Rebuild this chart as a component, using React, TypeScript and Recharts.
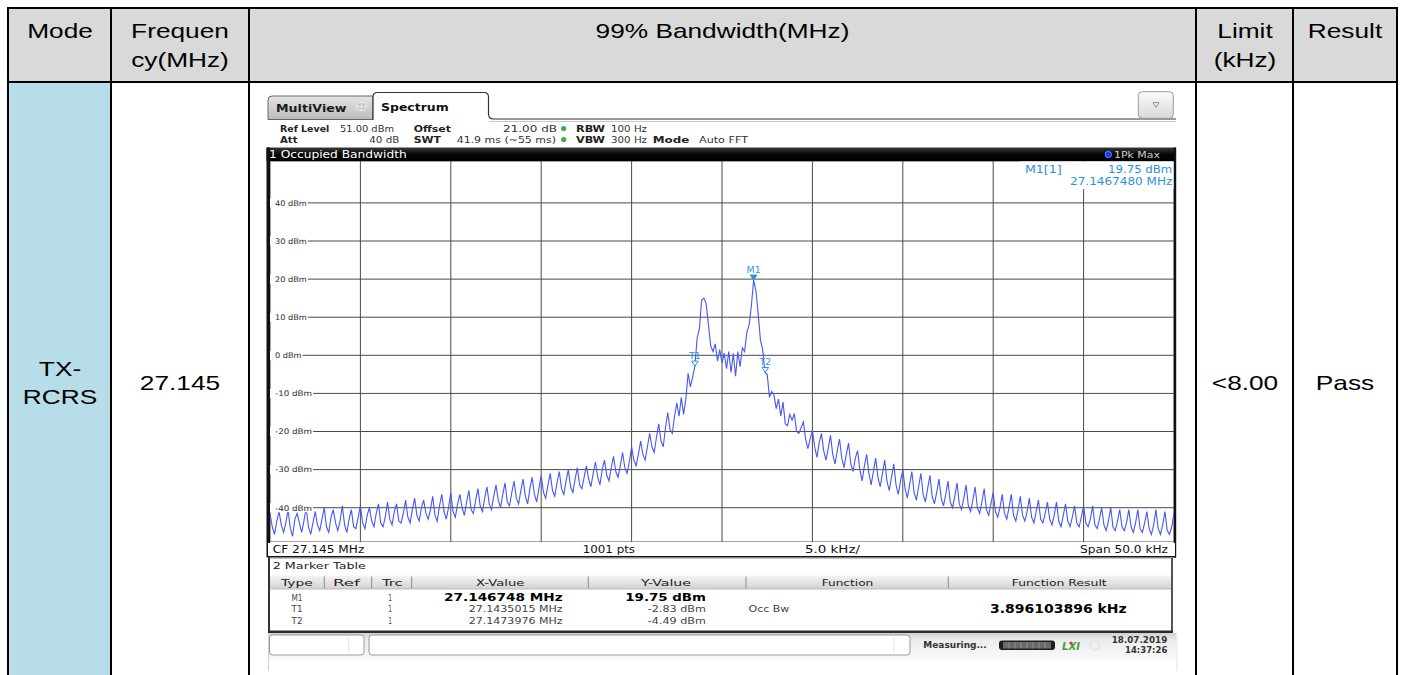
import React from 'react';
import { ComposedChart, Line, Scatter, XAxis, YAxis, CartesianGrid } from 'recharts';

// ---------------- data ----------------
const START_KHZ = -25; // offset from CF 27.145 MHz
const STEP_KHZ = 0.125;
const traceDbm: number[] = [
  -41.5, -45, -47, -43.5, -41, -44.5, -46.5, -44, -40.5, -45.5, -47.5, -43, -41.5, -44, -46.5, -43.5, -40, -45, -47, -44,
  -41, -44.5, -46, -43, -40, -45, -46.5, -42.5, -40.5, -44, -46, -43.5, -39.5, -44.5, -46.5, -43, -40.5, -45, -45.5, -42.5,
  -39.5, -44, -45.5, -42, -40, -43.5, -45, -41.5, -39, -44, -45, -42.5, -38.5, -43, -44.5, -41, -39, -43.5, -44, -41.5,
  -38, -42.5, -44, -40.5, -37.5, -42, -43.5, -40, -38, -41.5, -43, -40.5, -37, -42, -43.5, -39.5, -36.5, -41, -43, -40,
  -36, -41, -42.5, -39, -36.5, -40, -42, -38.5, -35.5, -40.5, -41.5, -38, -35, -39.5, -41, -37.5, -34.5, -39, -40.5, -37,
  -34, -38, -40, -36.5, -33.5, -38.5, -39.5, -36, -33, -37.5, -39, -35.5, -32.5, -37, -39, -35, -32, -36.5, -38.5, -35,
  -31.5, -36, -37.5, -34, -31, -35.5, -37, -33.5, -30.5, -35, -36.5, -33, -30, -34.5, -36, -32.5, -29.5, -34, -35, -32,
  -29, -32.5, -34.5, -31, -28, -32, -34, -30, -27.5, -31.5, -33, -29.5, -26.5, -30.5, -32, -29, -25.5, -29.5, -31, -28,
  -24, -27.5, -29, -26, -22.5, -26, -27.5, -24, -20.5, -24, -25.5, -21.5, -18, -22.5, -24, -19, -15, -19.5, -20.5, -16,
  -12.5, -16, -11, -15.5, -11.5, -4.7, -8.3, -5.7, -2.83, 4.5, 7, 14.5, 15, 13.5, 8, 2.5, 1, 3, -1.5, 1.5,
  -2, 0.5, -3.5, 1, -4.5, 0.5, -5.5, 1, -3, 2, 1, 6, 8, 13, 19.75, 17, 11, 4, 1.5, -4.49,
  -5, -11, -9.5, -10.5, -14, -11.5, -16, -12.3, -18, -18.5, -15.5, -17, -15.3, -20, -20.5, -19, -17.5, -22, -24.5, -22,
  -19.7, -24, -26.8, -23, -20.5, -25, -27.5, -24.5, -21, -26, -28.5, -25, -22, -27, -29.5, -26, -23, -28.5, -30.5, -27,
  -25, -30, -33, -29, -26, -31, -34, -30.5, -27, -32, -34.5, -31, -27.5, -33, -35.5, -32, -28.5, -34, -36.5, -33,
  -30, -35, -37.5, -34, -30.5, -36, -38, -34.5, -31, -36.5, -38.5, -35, -31.5, -37, -39, -36, -32.5, -37.5, -39.5, -36.5,
  -33, -38.5, -40, -37, -33.5, -39, -40.5, -37.5, -34, -39.5, -41, -38, -34.5, -40, -41.5, -38.5, -35, -40.5, -42, -39,
  -36, -41, -42.5, -40, -36.5, -41.5, -43, -40, -36.5, -42, -43.5, -40.5, -37, -42, -43.5, -41, -37.5, -42.5, -44, -41,
  -38, -43, -44, -41.5, -38.5, -43, -44.5, -42, -38.5, -43.5, -45, -42, -39, -43.5, -45, -42.5, -39.5, -44, -45, -42.5,
  -39.5, -44, -45, -43, -39.5, -44.5, -45.5, -43, -40, -44.5, -46, -43.5, -40, -45, -46, -43.5, -40.5, -45, -46, -44,
  -40.5, -45, -46.5, -44, -40.5, -45.5, -46.5, -44, -41, -45.5, -47, -44.5, -40.5, -45.5, -47, -44.5, -41, -46, -47, -45, -41.5,
];
const xGridKHz = [-20, -15, -10, -5, 0, 5, 10, 15, 20];
const yGridDbm = [40, 30, 20, 10, 0, -10, -20, -30, -40];
const markerNames = ['M1', 'T1', 'T2'];
const markerKHz = [1.748, -1.4985, 2.3976];
const markerDbm = [19.75, -2.83, -4.49];
const markerXText = ['27.146748 MHz', '27.1435015 MHz', '27.1473976 MHz'];
const markerYText = ['19.75 dBm', '-2.83 dBm', '-4.49 dBm'];

const headerCells = [['Mode'], ['Frequen', 'cy(MHz)'], ['99% Bandwidth(MHz)'], ['Limit', '(kHz)'], ['Result']];
const bodyCells = [['TX-', 'RCRS'], ['27.145'], [], ['<8.00'], ['Pass']];
const colCenters = [60, 180, 722.5, 1245, 1345];

const traceRows = traceDbm.map((v, i) => ({ f: START_KHZ + i * STEP_KHZ, v }));
const markerRows = markerNames.map((n, i) => ({ f: markerKHz[i], v: markerDbm[i], name: n }));

// ---------------- helpers ----------------
const SF = 'DejaVu Sans, Verdana, sans-serif';
const AF = 'Liberation Sans, Arial, sans-serif';

type TP = {
  x: number; y: number; x2?: number; s: number; b?: boolean; c?: string; f?: string;
  a?: 'start' | 'middle' | 'end'; sx?: number; it?: boolean; children: React.ReactNode;
};
function Tx({ x, y, x2, s, b, c = '#222', f = SF, a = 'start', sx = 1.27, it, children }: TP) {
  const common = {
    fontSize: s, fontWeight: b ? 700 : 400, fill: c, fontFamily: f,
    fontStyle: it ? 'italic' : 'normal',
  } as any;
  if (x2 !== undefined) {
    return (
      <text x={x} y={y} textLength={x2 - x} lengthAdjust="spacingAndGlyphs" {...common}>
        {children}
      </text>
    );
  }
  return (
    <text transform={`translate(${x},${y}) scale(${sx},1)`} textAnchor={a} {...common}>
      {children}
    </text>
  );
}

const YTick = (p: any) => {
  const { y, payload } = p;
  const label = `${payload.value} dBm`;
  const w = label.length * 5.3;
  return (
    <g>
      <rect x={0} y={y - 4.5} width={w + 6} height={9} fill="#fff" />
      <text x={5} y={y + 2.8} textLength={w} lengthAdjust="spacingAndGlyphs" fontSize={7.6}
        fontFamily={SF} fill="#2a2a2a">{label}</text>
    </g>
  );
};

const MarkerShape = (p: any) => {
  const { cx, cy, payload } = p;
  if (cx == null || cy == null) return <g />;
  const filled = String(payload.name).startsWith('M');
  const col = '#2a95dd';
  return (
    <g>
      <path d={`M${cx - 3.3},${cy - 5} L${cx + 3.3},${cy - 5} L${cx},${cy} Z`}
        fill={filled ? col : '#fff'} stroke={col} strokeWidth={1} />
      <text transform={`translate(${cx},${cy - 7.5}) scale(1.1,1)`} textAnchor="middle" fontSize={8.5}
        fontFamily={SF} fill={col}>{payload.name}</text>
    </g>
  );
};

// ---------------- component ----------------
export default function App() {
  const tableLinesX = [8, 111, 249, 1196, 1293, 1397];
  const hdrSeps = [324.3, 371.7, 411.7, 588.3, 746, 948.3];
  const rowBase = [600.5, 612, 623.5];
  return (
    <div style={{ position: 'absolute', left: 0, top: 0, width: 1401, height: 675, overflow: 'hidden', background: '#fff' }}>
      <svg width={1401} height={675} style={{ position: 'absolute', left: 0, top: 0 }}>
        <defs>
          <linearGradient id="tabG" x1="0" y1="0" x2="0" y2="1">
            <stop offset="0" stopColor="#e4e4e4" />
            <stop offset="1" stopColor="#bcbcbc" />
          </linearGradient>
          <linearGradient id="btnG" x1="0" y1="0" x2="0" y2="1">
            <stop offset="0" stopColor="#fbfbfb" />
            <stop offset="1" stopColor="#d9d9d9" />
          </linearGradient>
          <linearGradient id="hdrG" x1="0" y1="0" x2="0" y2="1">
            <stop offset="0" stopColor="#f4f4f4" />
            <stop offset="1" stopColor="#d2d2d2" />
          </linearGradient>
          <linearGradient id="barG" x1="0" y1="0" x2="0" y2="1">
            <stop offset="0" stopColor="#3a3a3a" />
            <stop offset="0.5" stopColor="#050505" />
            <stop offset="1" stopColor="#000" />
          </linearGradient>
          <linearGradient id="statG" x1="0" y1="0" x2="0" y2="1">
            <stop offset="0" stopColor="#d0d0d0" />
            <stop offset="0.25" stopColor="#ececec" />
            <stop offset="1" stopColor="#fafafa" />
          </linearGradient>
        </defs>

        {/* ---------- table ---------- */}
        <rect x={9} y={9} width={1388} height={73} fill="#d9d9d9" />
        <rect x={9} y={82} width={102} height={593} fill="#b7dde8" />
        <line x1={7} y1={8} x2={1398} y2={8} stroke="#000" strokeWidth={2} />
        <line x1={7} y1={82} x2={1398} y2={82} stroke="#000" strokeWidth={2} />
        {tableLinesX.map((x) => (
          <line key={x} x1={x} y1={7} x2={x} y2={675} stroke="#000" strokeWidth={2} />
        ))}
        {headerCells.map((lines, ci) =>
          lines.map((t, li) => (
            <Tx key={`h${ci}${li}`} x={colCenters[ci]} y={37.5 + li * 29} s={21} f={AF} a="middle" sx={1.25} c="#000">{t}</Tx>
          ))
        )}
        {bodyCells.map((lines, ci) =>
          lines.map((t, li) => (
            <Tx key={`b${ci}${li}`} x={colCenters[ci]} y={(lines.length === 2 ? 375.5 : 389.5) + li * 28} s={21} f={AF} a="middle" sx={1.25} c="#000">{t}</Tx>
          ))
        )}

        {/* ---------- screenshot chrome ---------- */}
        <rect x={266} y={88} width={912} height={583} fill="#fff" />
        {/* tabs */}
        <path d="M268,119.5 L268,100 Q268,96 272,96 L373,96 L373,119.5 Z" fill="url(#tabG)" stroke="#666" strokeWidth={1} />
        <Tx x={276} x2={346.5} y={111.5} s={11} b c="#1a1a1a">MultiView</Tx>
        <rect x={357} y={102.5} width={9} height={8} rx={2.5} fill="#c8c8c8" stroke="#f0f0f0" strokeWidth={1} />
        <line x1={361.5} y1={102.5} x2={361.5} y2={110.5} stroke="#f0f0f0" strokeWidth={0.8} />
        <line x1={357} y1={106.5} x2={366} y2={106.5} stroke="#f0f0f0" strokeWidth={0.8} />
        <path d="M373,120 L373,97 Q373,92.5 377.5,92.5 L484,92.5 Q488.5,92.5 488.5,97 L488.5,114 Q488.5,119 493.5,119 L1176,119"
          fill="#fff" stroke="#333" strokeWidth={1.2} />
        <line x1={489} y1={121.5} x2={1176} y2={121.5} stroke="#c8c8c8" strokeWidth={1} />
        <Tx x={381} x2={448.7} y={110.5} s={11} b c="#111">Spectrum</Tx>
        {/* dropdown */}
        <rect x={1138.3} y={91.7} width={35} height={26.6} rx={4} fill="url(#btnG)" stroke="#9a9a9a" strokeWidth={1} />
        <path d="M1153,102.5 L1159,102.5 L1156,107.5 Z" fill="none" stroke="#8a8a8a" strokeWidth={0.9} />

        {/* info rows */}
        <Tx x={280} x2={329.3} y={131.8} s={9} b>Ref Level</Tx>
        <Tx x={340} x2={394} y={131.8} s={9} c="#333">51.00 dBm</Tx>
        <Tx x={413.7} x2={451} y={131.8} s={9} b>Offset</Tx>
        <Tx x={503} x2={557} y={131.8} s={9} c="#333">21.00 dB</Tx>
        <circle cx={563.7} cy={128.5} r={2.6} fill="#3cb043" />
        <Tx x={576} x2={605} y={131.8} s={9} b>RBW</Tx>
        <Tx x={611} x2={647} y={131.8} s={9} c="#333">100 Hz</Tx>
        <Tx x={280} x2={297.5} y={142.8} s={9} b>Att</Tx>
        <Tx x={369.3} x2={399.3} y={142.8} s={9} c="#333">40 dB</Tx>
        <Tx x={413.7} x2={441} y={142.8} s={9} b>SWT</Tx>
        <Tx x={456.7} x2={556} y={142.8} s={9} c="#333">41.9 ms (~55 ms)</Tx>
        <circle cx={563.7} cy={139.5} r={2.6} fill="#3cb043" />
        <Tx x={576} x2={605} y={142.8} s={9} b>VBW</Tx>
        <Tx x={611} x2={647} y={142.8} s={9} c="#333">300 Hz</Tx>
        <Tx x={652.7} x2={689.3} y={142.8} s={9} b>Mode</Tx>
        <Tx x={699} x2={748} y={142.8} s={9} c="#333">Auto FFT</Tx>

        {/* title bar */}
        <rect x={266.5} y={147.5} width={909} height={13.5} fill="url(#barG)" />
        <Tx x={269} x2={406.7} y={157.8} s={10.5} c="#fff">1 Occupied Bandwidth</Tx>
        <circle cx={1108.3} cy={154.5} r={3.2} fill="#1538ff" stroke="#7f95ff" strokeWidth={0.8} />
        <Tx x={1114} x2={1160} y={158.3} s={9.5} c="#cfcfcf">1Pk Max</Tx>

        {/* plot area background & frame */}
        <rect x={270} y={161} width={904} height={381} fill="#fff" />
        <rect x={266.5} y={147.5} width={3.5} height={410} fill="#111" />
        <rect x={1173.8} y={147.5} width={2.4} height={410} fill="#111" />
        <rect x={268} y={543} width={907} height={14} fill="#fff" />
        <line x1={268} y1={556.8} x2={1176} y2={556.8} stroke="#111" strokeWidth={1.6} />
        <Tx x={272.7} x2={364.3} y={553.3} s={10} c="#111">CF 27.145 MHz</Tx>
        <Tx x={582.7} x2={635} y={553.3} s={10} c="#111">1001 pts</Tx>
        <Tx x={805} x2={860} y={553.3} s={10} c="#111">5.0 kHz/</Tx>
        <Tx x={1080} x2={1168} y={553.3} s={10} c="#111">Span 50.0 kHz</Tx>

        {/* marker table */}
        <rect x={268} y={558} width={905} height={75} fill="#fff" />
        <line x1={268} y1={558.5} x2={1173} y2={558.5} stroke="#c4c4c4" strokeWidth={1} />
        <line x1={269} y1={558} x2={269} y2={633} stroke="#333" strokeWidth={2} />
        <line x1={1172} y1={558} x2={1172} y2={633} stroke="#555" strokeWidth={2} />
        <line x1={268} y1={631.8} x2={1173} y2={631.8} stroke="#2a2a2a" strokeWidth={2.8} />
        <Tx x={272.7} x2={366} y={569.3} s={9.5} c="#222">2 Marker Table</Tx>
        <rect x={270} y={575.5} width={901} height={13.5} fill="url(#hdrG)" />
        <line x1={270} y1={589} x2={1171} y2={589} stroke="#b0b0b0" strokeWidth={0.8} />
        {hdrSeps.map((x) => (
          <line key={x} x1={x} y1={576.5} x2={x} y2={588.5} stroke="#8a8a8a" strokeWidth={1} />
        ))}
        <Tx x={281} x2={312.7} y={586} s={9.5}>Type</Tx>
        <Tx x={333} x2={360} y={586} s={9.5}>Ref</Tx>
        <Tx x={382} x2={402.7} y={586} s={9.5}>Trc</Tx>
        <Tx x={476} x2={524.3} y={586} s={9.5}>X-Value</Tx>
        <Tx x={641} x2={691} y={586} s={9.5}>Y-Value</Tx>
        <Tx x={821.7} x2={873.3} y={586} s={9.5}>Function</Tx>
        <Tx x={1011.7} x2={1106.7} y={586} s={9.5}>Function Result</Tx>
        {markerNames.map((n, i) => (
          <g key={n}>
            <Tx x={291.5} x2={302.5} y={rowBase[i]} s={9.3} c="#444">{n}</Tx>
            <Tx x={388.3} x2={392} y={rowBase[i]} s={9.3} c="#444">1</Tx>
            {i === 0 ? (
              <Tx x={444} x2={562.7} y={rowBase[i]} s={11} b c="#000">{markerXText[i]}</Tx>
            ) : (
              <Tx x={468.7} x2={562.7} y={rowBase[i]} s={9.3} c="#444">{markerXText[i]}</Tx>
            )}
            {i === 0 ? (
              <Tx x={625.3} x2={706} y={rowBase[i]} s={11} b c="#000">{markerYText[i]}</Tx>
            ) : (
              <Tx x={647.7} x2={706} y={rowBase[i]} s={9.3} c="#444">{markerYText[i]}</Tx>
            )}
          </g>
        ))}
        <Tx x={748.5} x2={789.3} y={rowBase[1]} s={9.3} c="#444">Occ Bw</Tx>
        <Tx x={990} x2={1126.7} y={613} s={12.5} b c="#000">3.896103896 kHz</Tx>

        {/* status bar */}
        <rect x={268} y={633} width={908} height={28} fill="url(#statG)" />
        <line x1={268.5} y1={633} x2={268.5} y2={671} stroke="#d0d0d0" strokeWidth={1} />
        <line x1={1177} y1={633} x2={1177} y2={671} stroke="#dfe8f0" strokeWidth={1.2} />
        <rect x={269.5} y={635} width={94.5} height={20} rx={3} fill="#fff" stroke="#9a9a9a" strokeWidth={1} />
        <line x1={348.7} y1={637} x2={348.7} y2={653} stroke="#e2e2e2" strokeWidth={1} />
        <rect x={369} y={635} width={541} height={20} rx={3} fill="#fff" stroke="#9a9a9a" strokeWidth={1} />
        <line x1={894} y1={637} x2={894} y2={653} stroke="#e2e2e2" strokeWidth={1} />
        <Tx x={923.3} x2={986.7} y={648.3} s={9} b c="#333">Measuring...</Tx>
        <rect x={999} y={640.5} width={56} height={9.5} rx={3} fill="#1e1e1e" />
        <rect x={1003} y={642} width={48} height={6.5} fill="#6a6a6a" />
        {[1009, 1015, 1021, 1027, 1033, 1039, 1045].map((x) => (
          <line key={x} x1={x} y1={642} x2={x} y2={648.5} stroke="#9a9a9a" strokeWidth={0.8} />
        ))}
        <Tx x={1062} x2={1080} y={649.5} s={10} b it c="#4f9a3a">LXI</Tx>
        <circle cx={1071} cy={643} r={1.6} fill="#d33" />
        <circle cx={1095} cy={645} r={5} fill="none" stroke="#e4e4e4" strokeWidth={1.5} />
        <Tx x={1111.7} x2={1167.3} y={643} s={9} b c="#333">18.07.2019</Tx>
        <Tx x={1125} x2={1167.3} y={653.3} s={9} b c="#333">14:37:26</Tx>
      </svg>

      {/* ---------- spectrum trace ---------- */}
      <div style={{ position: 'absolute', left: 270, top: 161 }}>
        <ComposedChart width={904} height={381} data={traceRows} margin={{ top: 0, right: 0, bottom: 0, left: 0 }}>
          <CartesianGrid stroke="#4a4a4a" strokeWidth={1} horizontal vertical />
          <XAxis type="number" dataKey="f" domain={[-25, 25]} ticks={xGridKHz} hide allowDataOverflow />
          <YAxis type="number" domain={[-49, 51]} ticks={yGridDbm} width={1} mirror interval={0}
            axisLine={false} tickLine={false} tick={(p: any) => <YTick {...p} />} allowDataOverflow />
          <Line type="linear" dataKey="v" stroke="#4757f2" strokeWidth={1.1} dot={false} isAnimationActive={false} />
          <Scatter data={markerRows} dataKey="v" isAnimationActive={false} shape={(p: any) => <MarkerShape {...p} />} />
        </ComposedChart>
      </div>

      {/* ---------- marker readout overlay ---------- */}
      <svg width={1401} height={675} style={{ position: 'absolute', left: 0, top: 0, pointerEvents: 'none' }}>
        <rect x={1020} y={161.5} width={153.5} height={27.5} fill="#fff" />
        <Tx x={1025} x2={1061.7} y={172.7} s={10} c="#2a93dc">M1[1]</Tx>
        <Tx x={1108} x2={1172.3} y={172.7} s={10} c="#2a93dc">19.75 dBm</Tx>
        <Tx x={1070} x2={1172.3} y={185.3} s={10} c="#2a93dc">27.1467480 MHz</Tx>
      </svg>
    </div>
  );
}
